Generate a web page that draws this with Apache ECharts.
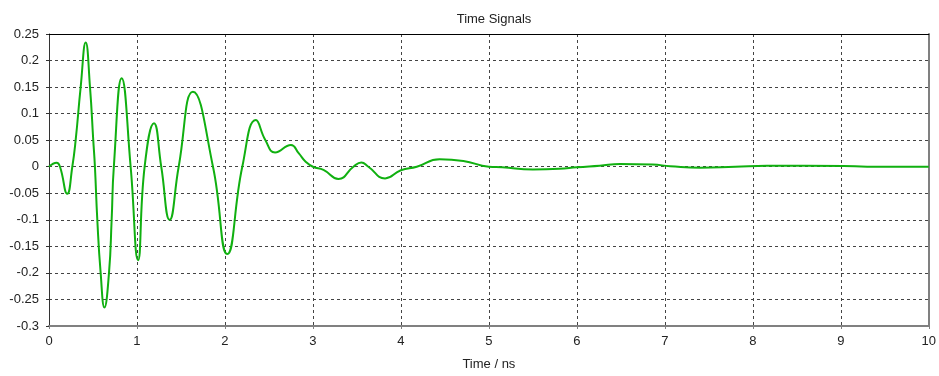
<!DOCTYPE html>
<html>
<head>
<meta charset="utf-8">
<script src="https://cdn.jsdelivr.net/npm/echarts@6/dist/echarts.min.js"></script>
<style>html,body{margin:0;padding:0;background:#fff;}#c{width:939px;height:376px;}</style>
</head>
<body>
<div id="c"></div>
<script>
var titleText = 'Time Signals';
var xAxisName = 'Time / ns';
var timeNs = [0.000, 0.087, 0.125, 0.207, 0.265, 0.303, 0.360, 0.417, 0.466, 0.503, 0.522, 0.549, 0.587, 0.630, 0.682, 0.712, 0.737, 0.826, 0.928, 1.012, 1.087, 1.193, 1.276, 1.371, 1.474, 1.636, 1.864, 2.026, 2.197, 2.352, 2.460, 2.570, 2.750, 2.840, 2.920, 3.000, 3.120, 3.290, 3.460, 3.550, 3.630, 3.820, 4.000, 4.180, 4.440, 4.710, 5.000, 5.150, 5.500, 5.800, 6.000, 6.260, 6.490, 6.860, 7.060, 7.400, 7.800, 8.160, 9.030, 9.300, 10.000];
var signal = [0.000, 0.0075, 0.000, -0.051, 0.000, 0.050, 0.150, 0.234, 0.150, 0.050, 0.000, -0.100, -0.200, -0.265, -0.200, -0.100, 0.000, 0.1665, 0.000, -0.176, 0.000, 0.082, 0.000, -0.100, 0.000, 0.141, 0.000, -0.1645, 0.000, 0.088, 0.050, 0.027, 0.041, 0.025, 0.009, 0.000, -0.006, -0.023, 0.000, 0.008, 0.000, -0.022, -0.0066, 0.000, 0.014, 0.011, 0.000, -0.001, -0.005, -0.004, -0.001, 0.002, 0.005, 0.004, 0.001, -0.002, 0.000, 0.002, 0.0015, 0.000, 0.000];
var xTicks = [0, 10, 1];        // min, max, interval
var yTicks = [-0.3, 0.25, 0.05]; // min, max, interval

var pts = timeNs.map(function (t, i) { return [t, signal[i]]; });
var font = 'Liberation Sans';
var chart = echarts.init(document.getElementById('c'), null, { renderer: 'canvas' });
var gridLine = { show: true, lineStyle: { color: '#444', type: [3, 3], width: 1 } };
chart.setOption({
  animation: false,
  backgroundColor: '#fff',
  title: {
    text: titleText, left: 489, top: 8, textAlign: 'center',
    textStyle: { fontFamily: font, fontSize: 13, fontWeight: 'normal', color: '#222' }
  },
  grid: { left: 49, right: 10, top: 34, bottom: 50, containLabel: false },
  xAxis: [{
    type: 'value', min: xTicks[0], max: xTicks[1], interval: xTicks[2],
    name: xAxisName, nameLocation: 'middle', nameGap: 32,
    nameTextStyle: { fontFamily: font, fontSize: 13, color: '#222' },
    axisLine: { show: true, onZero: false, lineStyle: { color: '#808080', width: 2 } },
    axisTick: { show: true, length: 3, lineStyle: { color: '#808080' } },
    axisLabel: { fontFamily: font, fontSize: 13, color: '#222', margin: 9 },
    splitLine: gridLine
  }, {
    type: 'value', position: 'top', min: xTicks[0], max: xTicks[1], interval: xTicks[2],
    axisLine: { show: true, onZero: false, lineStyle: { color: '#000', width: 1 } },
    axisTick: { show: false }, axisLabel: { show: false }, splitLine: { show: false }
  }],
  yAxis: [{
    type: 'value', min: yTicks[0], max: yTicks[1], interval: yTicks[2],
    axisLine: { show: true, onZero: false, lineStyle: { color: '#333', width: 1 } },
    axisTick: { show: true, length: 3, lineStyle: { color: '#333' } },
    axisLabel: { fontFamily: font, fontSize: 13, color: '#222', margin: 10 },
    splitLine: gridLine
  }, {
    type: 'value', position: 'right', min: yTicks[0], max: yTicks[1], interval: yTicks[2],
    axisLine: { show: true, onZero: false, lineStyle: { color: '#808080', width: 2 } },
    axisTick: { show: false }, axisLabel: { show: false }, splitLine: { show: false }
  }],
  series: [{
    type: 'line', data: pts, smooth: true, symbol: 'none',
    xAxisIndex: 0, yAxisIndex: 0,
    lineStyle: { color: '#10b010', width: 2 }
  }]
});
</script>
</body>
</html>
